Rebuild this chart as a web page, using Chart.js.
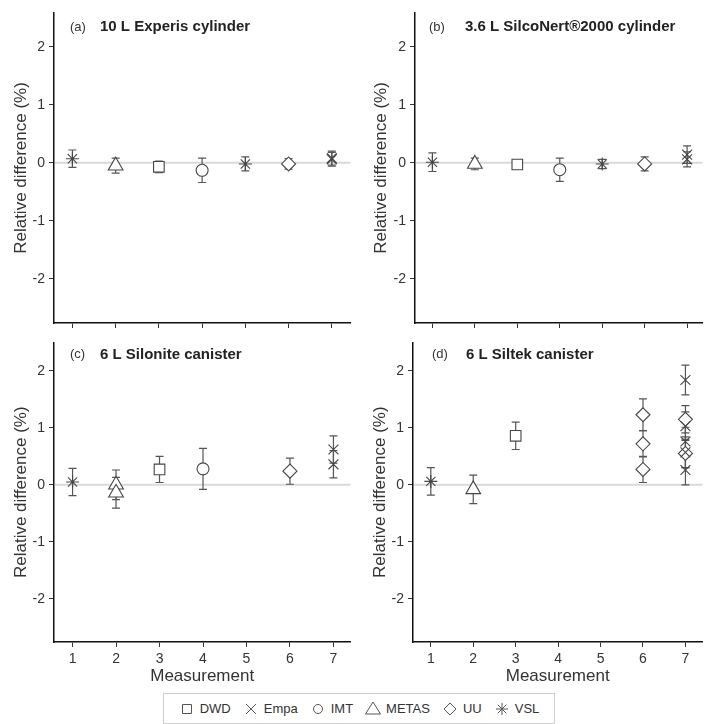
<!DOCTYPE html>
<html><head><meta charset="utf-8">
<script src="https://cdn.jsdelivr.net/npm/chart.js@4.4.1/dist/chart.umd.min.js"></script>
<style>
html,body{margin:0;padding:0;background:#fff;width:712px;height:724px;overflow:hidden;position:relative;}
canvas.p{position:absolute;}
#legend{position:absolute;left:163px;top:693px;width:392px;height:31px;border:1px solid #cfcfcf;box-sizing:border-box;display:flex;align-items:center;justify-content:center;font-family:"Liberation Sans Narrow","Liberation Sans",Arial,sans-serif;font-size:13px;color:#333;}
.item{display:flex;align-items:center;margin:0 6px;}
.item canvas{margin-right:5px;}
</style></head><body>
<canvas class="p" id="pa" width="360" height="340" style="left:0;top:0"></canvas>
<canvas class="p" id="pb" width="352" height="340" style="left:360px;top:0"></canvas>
<canvas class="p" id="pc" width="360" height="360" style="left:0;top:330px"></canvas>
<canvas class="p" id="pd" width="352" height="360" style="left:360px;top:330px"></canvas>
<div id="legend"></div>
<script>
// ---------- data ----------
const measurements = [1, 2, 3, 4, 5, 6, 7];
const yTicks = [-2, -1, 0, 1, 2];
const labs = ['DWD', 'Empa', 'IMT', 'METAS', 'UU', 'VSL'];

// (a) 10 L Experis cylinder
const aX   = [1, 2, 3, 4, 5, 6, 7, 7];
const aLab = ['VSL', 'METAS', 'DWD', 'IMT', 'VSL', 'UU', 'Empa', 'Empa'];
const aY   = [0.07, -0.05, -0.07, -0.13, -0.02, -0.02, 0.08, 0.06];
const aErr = [0.15, 0.13, 0.10, 0.21, 0.12, 0.09, 0.12, 0.12];

// (b) 3.6 L SilcoNert®2000 cylinder
const bX   = [1, 2, 3, 4, 5, 6, 7, 7];
const bLab = ['VSL', 'METAS', 'DWD', 'IMT', 'VSL', 'UU', 'Empa', 'Empa'];
const bY   = [0.01, -0.02, -0.03, -0.12, -0.02, -0.02, 0.14, 0.06];
const bErr = [0.16, 0.10, 0.05, 0.20, 0.08, 0.12, 0.15, 0.13];

// (c) 6 L Silonite canister
const cX   = [1, 2, 2, 3, 4, 6, 7, 7];
const cLab = ['VSL', 'METAS', 'METAS', 'DWD', 'IMT', 'UU', 'Empa', 'Empa'];
const cY   = [0.05, 0.00, -0.14, 0.27, 0.28, 0.24, 0.62, 0.36];
const cErr = [0.24, 0.26, 0.27, 0.23, 0.36, 0.23, 0.24, 0.24];

// (d) 6 L Siltek canister
const dX   = [1, 2, 3, 6, 6, 6, 7, 7, 7, 7, 7, 7, 7];
const dLab = ['VSL', 'METAS', 'DWD', 'UU', 'UU', 'UU', 'Empa', 'UU', 'Empa', 'Empa', 'Empa', 'UU', 'Empa'];
const dY   = [0.06, -0.08, 0.86, 1.23, 0.72, 0.27, 1.84, 1.15, 1.03, 0.76, 0.57, 0.55, 0.26];
const dErr = [0.24, 0.25, 0.24, 0.28, 0.23, 0.23, 0.26, 0.24, 0.25, 0.25, 0.27, 0.25, 0.26];

// ---------- styling ----------
const FONT = '"Liberation Sans", Arial, sans-serif';
Chart.defaults.font.family = FONT;
const STYLE = {DWD:'rect', Empa:'crossRot', IMT:'circle', METAS:'triangle', UU:'rectRot', VSL:'star'};
const RAD   = {DWD:7.5, Empa:7, IMT:6, METAS:8.5, UU:7, VSL:6.5};
const MARK = '#454545';

const deco = {
  id: 'deco',
  beforeDatasetsDraw(chart) {
    const {ctx, chartArea: a, scales: {x, y}} = chart;
    ctx.save();
    const y0 = y.getPixelForValue(0);
    ctx.strokeStyle = '#d9d9d9'; ctx.lineWidth = 2;
    ctx.beginPath(); ctx.moveTo(a.left + 1, y0); ctx.lineTo(a.right, y0); ctx.stroke();
    ctx.strokeStyle = '#555'; ctx.lineWidth = 1.2;
    chart.data.datasets.forEach(ds => ds.data.forEach(p => {
      const px = x.getPixelForValue(p.x);
      const t = y.getPixelForValue(p.y + p.e), b = y.getPixelForValue(p.y - p.e);
      ctx.beginPath();
      ctx.moveTo(px, t); ctx.lineTo(px, b);
      ctx.moveTo(px - 4, t); ctx.lineTo(px + 4, t);
      ctx.moveTo(px - 4, b); ctx.lineTo(px + 4, b);
      ctx.stroke();
    }));
    ctx.restore();
  },
  afterDraw(chart, args, o) {
    const {ctx, chartArea: a} = chart;
    ctx.save();
    ctx.textBaseline = 'middle'; ctx.textAlign = 'left';
    ctx.fillStyle = '#333';
    ctx.font = '13px ' + FONT;
    ctx.fillText(o.tag, a.left + o.tagX, a.top + o.dy);
    ctx.fillStyle = '#222';
    ctx.font = 'bold 15px ' + FONT;
    ctx.fillText(o.text, a.left + o.textX, a.top + o.dy);
    ctx.restore();
  }
};

function makePanel(id, xs, ys, errs, ls, c) {
  const datasets = labs.map(lab => ({
    label: lab,
    data: xs.map((x, i) => ({x: x, y: ys[i], e: errs[i], lab: ls[i]})).filter(p => p.lab === lab),
    pointStyle: STYLE[lab], pointRadius: RAD[lab],
    borderColor: MARK, backgroundColor: '#fff', borderWidth: 1.1, showLine: false
  })).filter(d => d.data.length);
  new Chart(document.getElementById(id), {
    type: 'scatter',
    data: {datasets},
    options: {
      responsive: false, animation: false, events: [],
      layout: {padding: {top: c.padTop, right: c.padRight, left: 0, bottom: 0}},
      plugins: {legend: {display: false}, tooltip: {enabled: false},
        deco: {tag: c.tag, text: c.text, tagX: c.tagX, textX: c.textX, dy: c.dy}},
      scales: {
        x: {
          type: 'linear', min: c.xmin, max: c.xmax,
          afterBuildTicks: s => { s.ticks = measurements.map(v => ({value: v})); },
          afterFit: s => { s.height = c.xh; },
          grid: {display: true, drawOnChartArea: false, drawTicks: true, tickLength: 5, color: '#333', lineWidth: 1},
          border: {display: true, color: '#111', width: 1.5},
          ticks: {display: c.xlabels, padding: 4, font: {size: 14}, color: '#333', maxRotation: 0},
          title: {display: c.xlabels, text: 'Measurement', color: '#333',
                  font: {size: 17, lineHeight: 1.2}, padding: {top: 0, bottom: 3}}
        },
        y: {
          type: 'linear', min: -2.76, max: c.ymax,
          afterBuildTicks: s => { s.ticks = yTicks.map(v => ({value: v})); },
          afterFit: s => { s.width = c.yw; },
          grid: {display: true, drawOnChartArea: false, drawTicks: true, tickLength: 5, color: '#333', lineWidth: 1},
          border: {display: true, color: '#111', width: 1.5},
          ticks: {padding: 4, font: {size: 14}, color: '#333'},
          title: {display: true, text: 'Relative difference (%)', color: '#333',
                  font: {size: 17, lineHeight: 1.2}, padding: {top: c.ytPad, bottom: 0}}
        }
      }
    },
    plugins: [deco]
  });
}

makePanel('pa', aX, aY, aErr, aLab, {padTop: 13, padRight: 5, xh: 17, yw: 54, xmin: 0.574, xmax: 7.43, ymax: 2.58,
  xlabels: false, ytPad: 11.5, tag: '(a)', text: '10 L Experis cylinder', tagX: 16, textX: 46, dy: 14});
makePanel('pb', bX, bY, bErr, bLab, {padTop: 13, padRight: 0, xh: 17, yw: 55, xmin: 0.59, xmax: 7.36, ymax: 2.58,
  xlabels: false, ytPad: 11, tag: '(b)', text: '3.6 L SilcoNert®2000 cylinder', tagX: 14, textX: 50, dy: 14});
makePanel('pc', cX, cY, cErr, cLab, {padTop: 10, padRight: 7, xh: 48, yw: 54, xmin: 0.573, xmax: 7.39, ymax: 2.5,
  xlabels: true, ytPad: 11.5, tag: '(c)', text: '6 L Silonite canister', tagX: 16, textX: 46, dy: 12});
makePanel('pd', dX, dY, dErr, dLab, {padTop: 10, padRight: 0, xh: 48, yw: 53, xmin: 0.58, xmax: 7.40, ymax: 2.5,
  xlabels: true, ytPad: 10.5, tag: '(d)', text: '6 L Siltek canister', tagX: 19, textX: 53, dy: 12});

// ---------- legend ----------
function drawSym(ctx, st, x, y) {
  ctx.strokeStyle = '#555'; ctx.lineWidth = 1; ctx.beginPath();
  if (st === 'rect') { ctx.rect(x - 4.5, y - 4.5, 9, 9); }
  else if (st === 'crossRot') { ctx.moveTo(x-5,y-5); ctx.lineTo(x+5,y+5); ctx.moveTo(x+5,y-5); ctx.lineTo(x-5,y+5); }
  else if (st === 'circle') { ctx.arc(x, y, 4.5, 0, Math.PI * 2); }
  else if (st === 'triangle') { ctx.moveTo(x, y - 7); ctx.lineTo(x + 7.5, y + 5); ctx.lineTo(x - 7.5, y + 5); ctx.closePath(); }
  else if (st === 'rectRot') { ctx.moveTo(x, y-6); ctx.lineTo(x+6, y); ctx.lineTo(x, y+6); ctx.lineTo(x-6, y); ctx.closePath(); }
  else if (st === 'star') { ctx.moveTo(x,y-6); ctx.lineTo(x,y+6); ctx.moveTo(x-6,y); ctx.lineTo(x+6,y);
    ctx.moveTo(x-4.3,y-4.3); ctx.lineTo(x+4.3,y+4.3); ctx.moveTo(x+4.3,y-4.3); ctx.lineTo(x-4.3,y+4.3); }
  ctx.stroke();
}
const leg = document.getElementById('legend');
labs.forEach(lab => {
  const it = document.createElement('div'); it.className = 'item';
  const cv = document.createElement('canvas'); cv.width = 16; cv.height = 16;
  drawSym(cv.getContext('2d'), STYLE[lab], 8, 8);
  const sp = document.createElement('span'); sp.textContent = lab;
  it.appendChild(cv); it.appendChild(sp); leg.appendChild(it);
});
</script>
</body></html>
